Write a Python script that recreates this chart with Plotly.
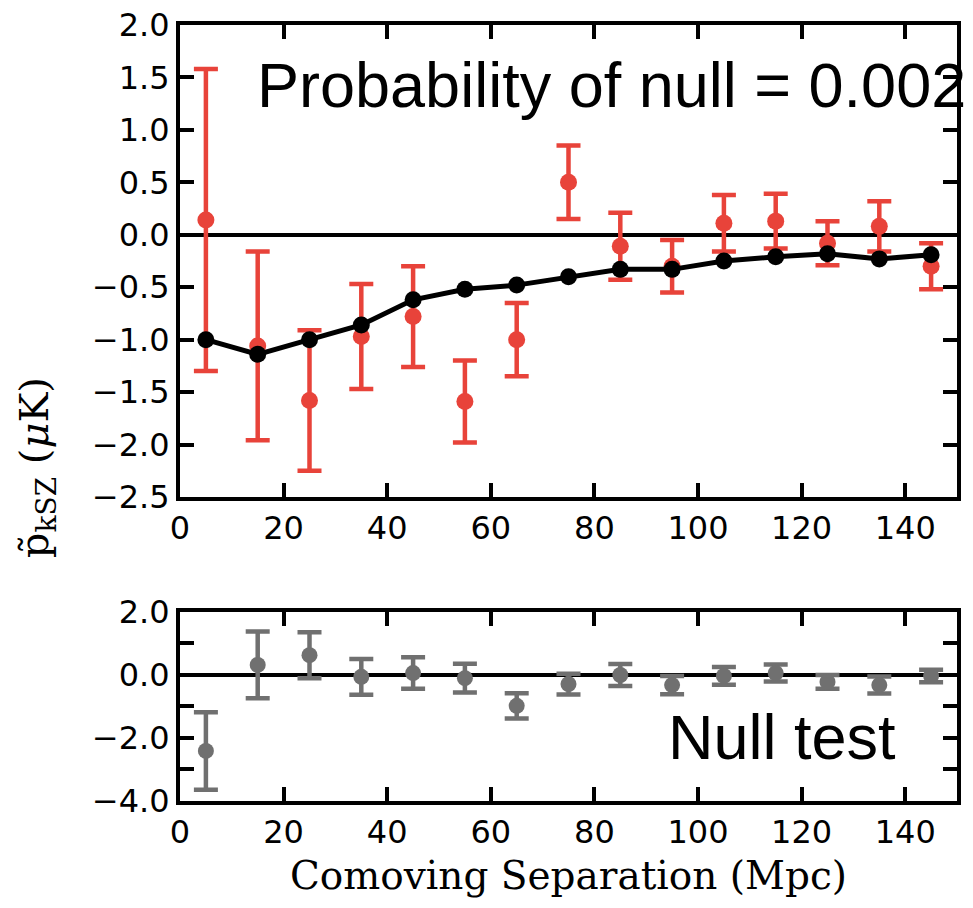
import plotly.graph_objects as go
from plotly.subplots import make_subplots

# Data
separation = [5, 15, 25, 35, 45, 55, 65, 75, 85, 95, 105, 115, 125, 135, 145]
pksz = [0.14, -1.06, -1.58, -0.97, -0.78, -1.59, -1.00, 0.50, -0.11, -0.30, 0.11, 0.13, -0.08, 0.08, -0.30]
pksz_err = [1.44, 0.90, 0.67, 0.50, 0.48, 0.39, 0.35, 0.35, 0.32, 0.25, 0.27, 0.26, 0.21, 0.24, 0.22]
model = [-1.00, -1.14, -1.00, -0.86, -0.62, -0.52, -0.48, -0.40, -0.33, -0.33, -0.25, -0.21, -0.18, -0.23, -0.19]
null = [-2.41, 0.32, 0.63, -0.06, 0.06, -0.10, -0.98, -0.29, 0.00, -0.32, -0.03, 0.06, -0.22, -0.32, -0.03]
null_err = [1.23, 1.06, 0.73, 0.57, 0.50, 0.46, 0.40, 0.33, 0.35, 0.29, 0.28, 0.27, 0.22, 0.27, 0.20]

top_yticks = [2.0, 1.5, 1.0, 0.5, 0.0, -0.5, -1.0, -1.5, -2.0, -2.5]
bot_yticks = [2.0, 0.0, -2.0, -4.0]
xticks = [0, 20, 40, 60, 80, 100, 120, 140]

RED = "#e8433a"
GRAY = "#707070"

fig = make_subplots(rows=2, cols=1, shared_xaxes=False, vertical_spacing=0.0)

fig.add_trace(go.Scatter(
    x=separation, y=pksz, mode="markers",
    marker=dict(color=RED, size=17),
    error_y=dict(type="data", array=pksz_err, color=RED, thickness=4.5, width=12),
    showlegend=False), row=1, col=1)
fig.add_trace(go.Scatter(
    x=separation, y=model, mode="lines+markers",
    line=dict(color="black", width=5),
    marker=dict(color="black", size=17),
    showlegend=False), row=1, col=1)
fig.add_trace(go.Scatter(
    x=separation, y=null, mode="markers",
    marker=dict(color=GRAY, size=16),
    error_y=dict(type="data", array=null_err, color=GRAY, thickness=4.5, width=12),
    showlegend=False), row=2, col=1)

tickfont = dict(family="DejaVu Sans", size=32, color="black")
axis_common = dict(
    showline=True, linecolor="black", linewidth=4, mirror="ticks",
    ticks="inside", ticklen=14, tickwidth=3.5, tickcolor="black",
    showgrid=False, tickfont=tickfont, automargin=False, ticklabeloverflow="allow",
)

# the page body keeps an 8px margin on every side; size the figure to fit inside it
fig.update_layout(
    width=957, height=892,
    margin=dict(l=172, r=8, t=17, b=99),
    paper_bgcolor="white", plot_bgcolor="white",
    xaxis=dict(domain=[0, 1], range=[0, 150], tickvals=xticks, zeroline=False, **axis_common),
    yaxis=dict(domain=[0.3918, 1], range=[-2.5, 2.0], tickvals=top_yticks, tickformat=".1f",
               zeroline=True, zerolinecolor="black", zerolinewidth=4, **axis_common),
    xaxis2=dict(domain=[0, 1], range=[0, 150], tickvals=xticks, zeroline=False,
                title=dict(text="Comoving Separation (Mpc)",
                           font=dict(family="DejaVu Serif", size=39, color="black"), standoff=12),
                **axis_common),
    yaxis2=dict(domain=[0, 0.2436], range=[-4, 2], tickvals=bot_yticks, tickformat=".1f",
                minor=dict(tickvals=[1, -1, -3], ticks="inside", ticklen=14, tickwidth=3.5, tickcolor="black"),
                zeroline=True, zerolinecolor="black", zerolinewidth=4, **axis_common),
)

fig.add_annotation(
    text="Probability of null = 0.002", xref="x", yref="y", x=14.5, y=1.43,
    xanchor="left", yanchor="middle", showarrow=False,
    font=dict(family="Liberation Sans", size=63, color="black"))
fig.add_annotation(
    text="Null test", xref="x2", yref="y2", x=93.8, y=-1.98,
    xanchor="left", yanchor="middle", showarrow=False,
    font=dict(family="Liberation Sans", size=63, color="black"))
fig.add_annotation(
    text="p\u0303<sub>kSZ</sub> (<i>\u03bc</i>K)", xref="paper", yref="paper", x=-0.184, y=0.429,
    xanchor="center", yanchor="middle", textangle=-90, showarrow=False,
    font=dict(family="DejaVu Serif", size=40, color="black"))

fig.write_html("out.html")
